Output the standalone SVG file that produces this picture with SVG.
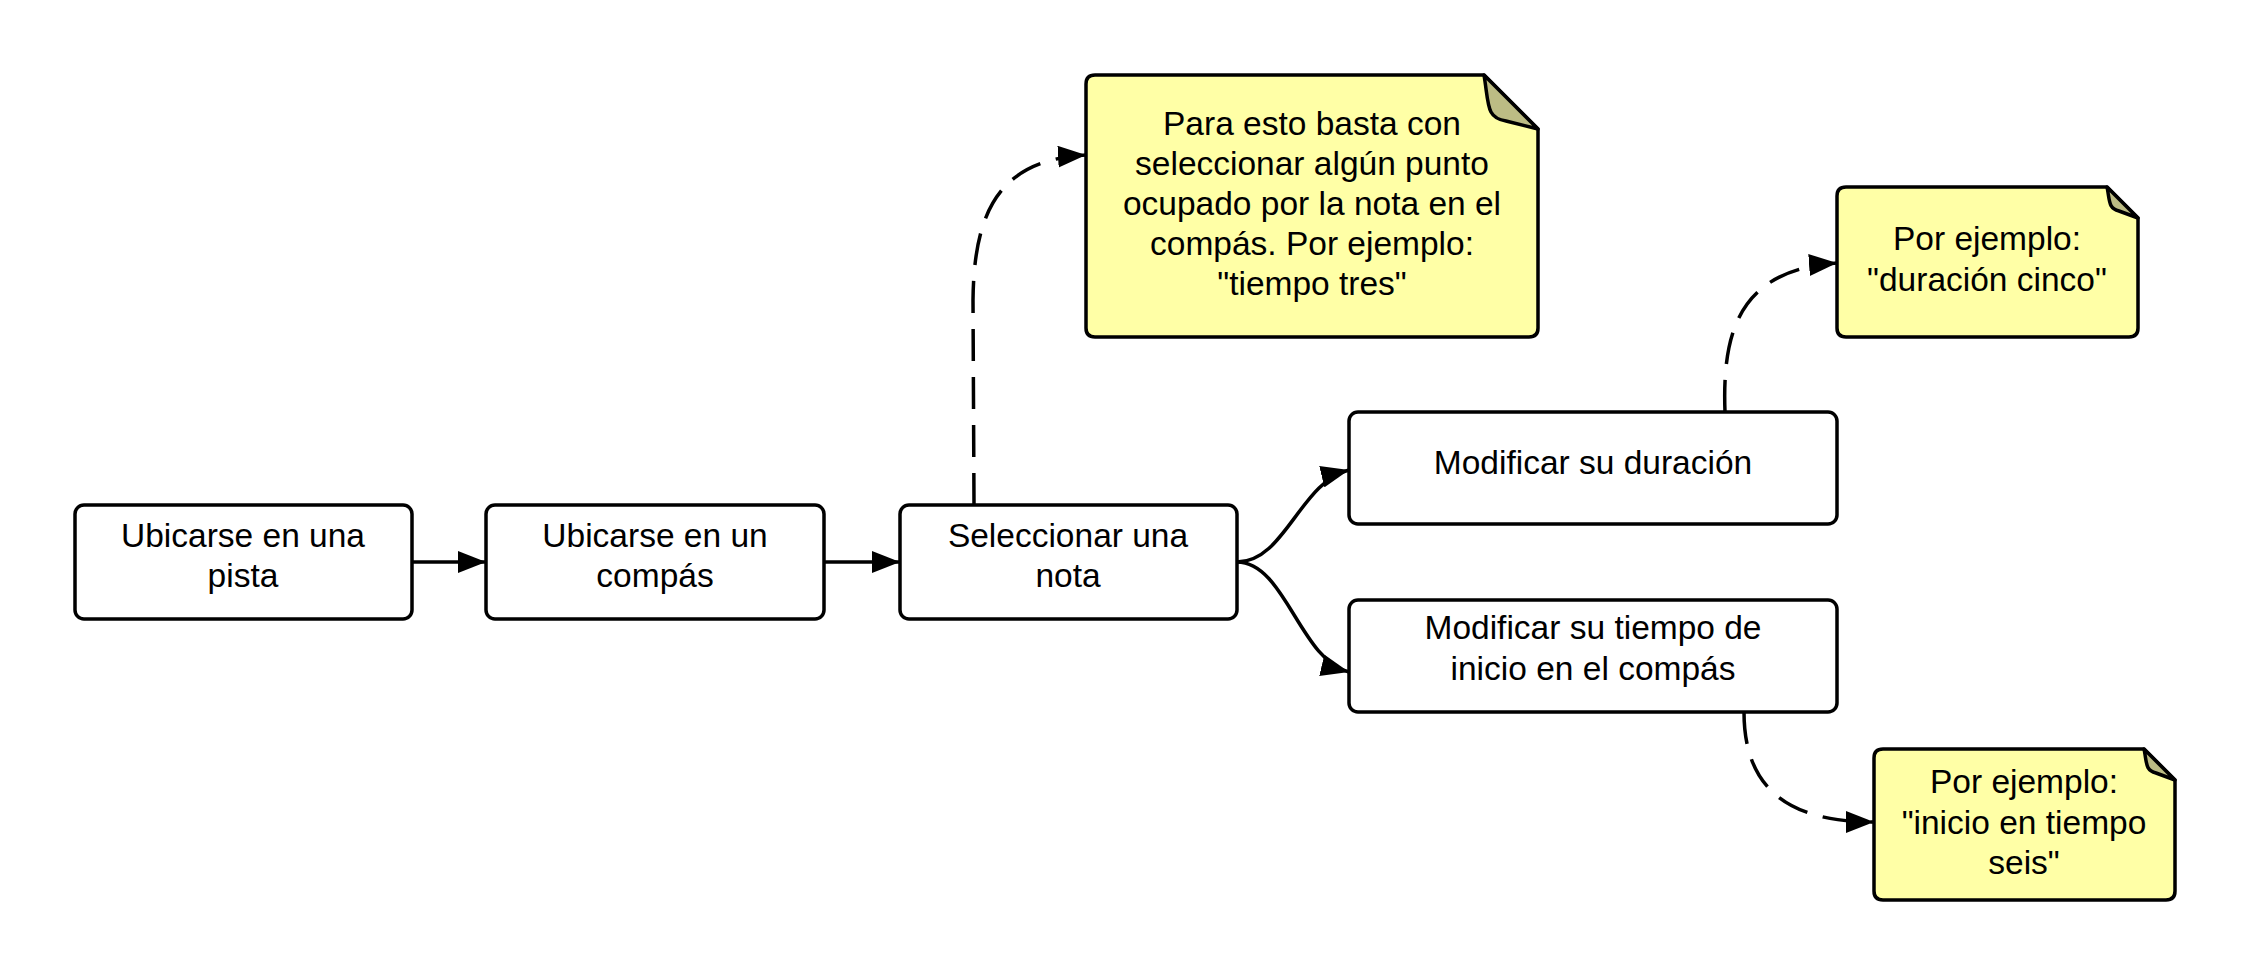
<svg xmlns="http://www.w3.org/2000/svg" width="2250" height="975" viewBox="0 0 2250 975">
<style>
.box{fill:#ffffff;stroke:#000;stroke-width:3.5}
.note{fill:#ffffa6;stroke:#000;stroke-width:3.5;stroke-linejoin:round}
.flap{fill:#bcbc84;stroke:#000;stroke-width:3.5;stroke-linejoin:round}
.t{font-family:"Liberation Sans",Arial,sans-serif;font-size:33.5px;fill:#000;text-anchor:middle}
.c{fill:none;stroke:#000;stroke-width:3.5}
.d{fill:none;stroke:#000;stroke-width:3.5;stroke-dasharray:32 16}
</style>
<defs>
<marker id="ah" markerWidth="30" markerHeight="22" refX="28" refY="11" orient="auto" markerUnits="userSpaceOnUse">
<path d="M0,0 L28,11 L0,22 Z" fill="#000"/>
</marker>
</defs>
<rect width="2250" height="975" fill="#ffffff"/>
<g id="connectors">
<path class="c" d="M412,562 L486,562" marker-end="url(#ah)"/>
<path class="c" d="M824,562 L900,562" marker-end="url(#ah)"/>
<path class="c" d="M1237,562 C1285,562 1300,482 1349,470" marker-end="url(#ah)"/>
<path class="c" d="M1237,562 C1285,562 1300,660 1349,672" marker-end="url(#ah)"/>
<path class="d" d="M974,505 L973,300 C974,210 1000,160 1086,155" marker-end="url(#ah)"/>
<path class="d" d="M1725,412 C1722,330 1740,270 1837,263" marker-end="url(#ah)"/>
<path class="d" d="M1744,712 C1744,790 1790,822 1874,822" marker-end="url(#ah)"/>
</g>
<g id="n1">
<rect class="box" x="75" y="505" width="337" height="114" rx="9"/>
<text class="t" x="243" y="547">Ubicarse en una</text>
<text class="t" x="243" y="587">pista</text>
</g>
<g id="n2">
<rect class="box" x="486" y="505" width="338" height="114" rx="9"/>
<text class="t" x="655" y="547">Ubicarse en un</text>
<text class="t" x="655" y="587">compás</text>
</g>
<g id="n3">
<rect class="box" x="900" y="505" width="337" height="114" rx="9"/>
<text class="t" x="1068" y="547">Seleccionar una</text>
<text class="t" x="1068" y="587">nota</text>
</g>
<g id="n4">
<rect class="box" x="1349" y="412" width="488" height="112" rx="9"/>
<text class="t" x="1593" y="474">Modificar su duración</text>
</g>
<g id="n5">
<rect class="box" x="1349" y="600" width="488" height="112" rx="9"/>
<text class="t" x="1593" y="639">Modificar su tiempo de</text>
<text class="t" x="1593" y="680">inicio en el compás</text>
</g>
<g id="note1">
<path class="note" d="M1095,75 L1484,75 L1538,129 L1538,328 Q1538,337 1529,337 L1095,337 Q1086,337 1086,328 L1086,84 Q1086,75 1095,75 Z"/>
<path class="flap" d="M1484,75 C1489,105 1486,118 1506,121 L1538,129 Z"/>
<text class="t" x="1312" y="135">Para esto basta con</text>
<text class="t" x="1312" y="175">seleccionar algún punto</text>
<text class="t" x="1312" y="215">ocupado por la nota en el</text>
<text class="t" x="1312" y="255">compás. Por ejemplo:</text>
<text class="t" x="1312" y="295">"tiempo tres"</text>
</g>
<g id="note2">
<path class="note" d="M1846,187 L2107,187 L2138,218 L2138,328 Q2138,337 2129,337 L1846,337 Q1837,337 1837,328 L1837,196 Q1837,187 1846,187 Z"/>
<path class="flap" d="M2107,187 C2110,201 2108,208 2119,211 L2138,218 Z"/>
<text class="t" x="1987" y="250">Por ejemplo:</text>
<text class="t" x="1987" y="291">"duración cinco"</text>
</g>
<g id="note3">
<path class="note" d="M1883,749 L2144,749 L2175,780 L2175,891 Q2175,900 2166,900 L1883,900 Q1874,900 1874,891 L1874,758 Q1874,749 1883,749 Z"/>
<path class="flap" d="M2144,749 C2147,763 2145,770 2156,773 L2175,780 Z"/>
<text class="t" x="2024" y="793">Por ejemplo:</text>
<text class="t" x="2024" y="834">"inicio en tiempo</text>
<text class="t" x="2024" y="874">seis"</text>
</g>
</svg>
